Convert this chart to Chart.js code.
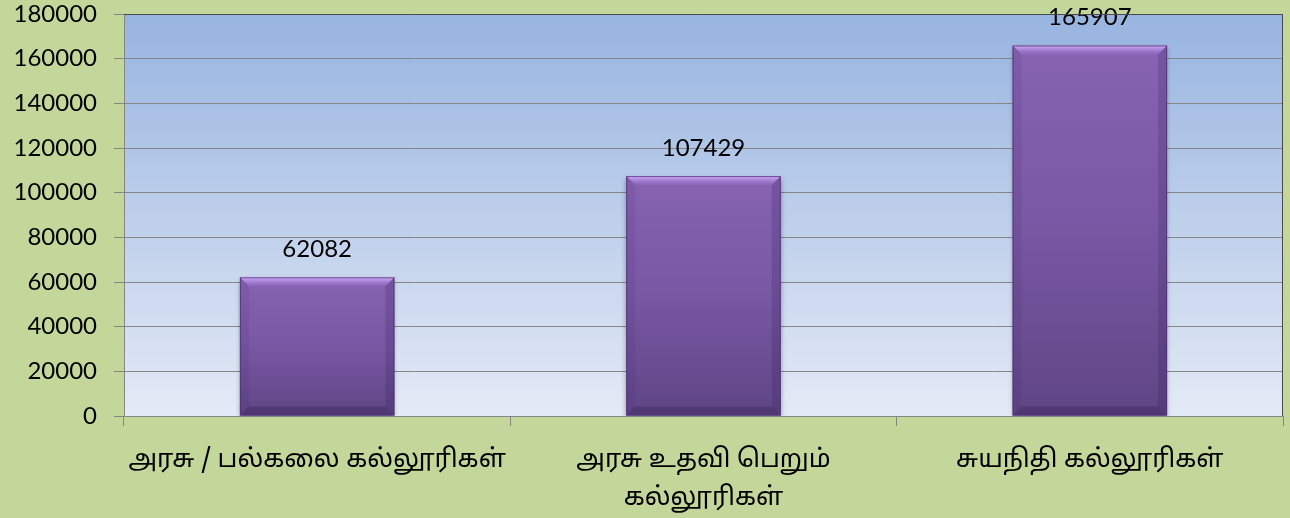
<!DOCTYPE html>
<html>
<head>
<meta charset="utf-8">
<script src="https://cdn.jsdelivr.net/npm/chart.js@4.4.0/dist/chart.umd.min.js"></script>
<style>
  html, body { margin: 0; padding: 0; background: #c4d79b; }
  #wrap { width: 1290px; height: 518px; }
</style>
</head>
<body>
<div id="wrap"><canvas id="collegeChart" width="1290" height="518"></canvas></div>
<script>
// data
const categories = [
    ['அரசு / பல்கலை கல்லூரிகள்'],
    ['அரசு உதவி பெறும்', 'கல்லூரிகள்'],
    ['சுயநிதி கல்லூரிகள்']
];
const studentCounts = [62082, 107429, 165907];
const yTicks = [0, 20000, 40000, 60000, 80000, 100000, 120000, 140000, 160000, 180000];

const numFont = { family: 'Lato, "Open Sans", sans-serif', size: 24 };
const tamilFont = { family: '"Noto Sans Tamil", Latha, "Noto Sans", sans-serif', size: 25.5, lineHeight: 1.49 };

// plot area: blue gradient + dark top/right border
const plotBackground = {
    id: 'plotBackground',
    beforeDraw(chart) {
        const { ctx, chartArea: a } = chart;
        const g = ctx.createLinearGradient(0, a.top, 0, a.bottom);
        g.addColorStop(0, '#97b4e0');
        g.addColorStop(1, '#e4eaf6');
        ctx.save();
        ctx.fillStyle = g;
        ctx.fillRect(a.left, a.top, a.right - a.left, a.bottom - a.top);
        ctx.restore();
    },
    afterDraw(chart) {
        const { ctx, chartArea: a } = chart;
        ctx.save();
        ctx.strokeStyle = '#4a4a4a';
        ctx.lineWidth = 1;
        ctx.beginPath();
        ctx.moveTo(a.left, a.top + 0.5);
        ctx.lineTo(a.right - 0.5, a.top + 0.5);
        ctx.lineTo(a.right - 0.5, a.bottom);
        ctx.stroke();
        ctx.restore();
    }
};

// shadow under the bars
const barShadow = {
    id: 'barShadow',
    beforeDatasetsDraw(chart) {
        const ctx = chart.ctx;
        ctx.save();
        ctx.shadowColor = 'rgba(0,0,0,0.35)';
        ctx.shadowBlur = 5;
        ctx.shadowOffsetY = 3;
    },
    afterDatasetsDraw(chart) {
        chart.ctx.restore();
    }
};

// bevel edges + value labels
const bevelAndLabels = {
    id: 'bevelAndLabels',
    afterDatasetsDraw(chart) {
        const ctx = chart.ctx;
        const meta = chart.getDatasetMeta(0);
        meta.data.forEach((bar, i) => {
            const { x, y, base, width } = bar.getProps(['x', 'y', 'base', 'width'], true);
            const l = x - width / 2, r = x + width / 2, t = y, b = base;
            const s = 9;
            ctx.save();
            // top
            let g = ctx.createLinearGradient(0, t, 0, t + s);
            g.addColorStop(0, 'rgba(218,180,255,0.95)');
            g.addColorStop(1, 'rgba(150,110,205,0.3)');
            ctx.fillStyle = g;
            ctx.beginPath();
            ctx.moveTo(l, t); ctx.lineTo(r, t); ctx.lineTo(r - s, t + s); ctx.lineTo(l + s, t + s);
            ctx.closePath(); ctx.fill();
            // left
            ctx.fillStyle = 'rgba(60,30,100,0.10)';
            ctx.beginPath();
            ctx.moveTo(l, t); ctx.lineTo(l + s, t + s); ctx.lineTo(l + s, b - s); ctx.lineTo(l, b);
            ctx.closePath(); ctx.fill();
            // right
            ctx.fillStyle = 'rgba(40,20,80,0.18)';
            ctx.beginPath();
            ctx.moveTo(r, t); ctx.lineTo(r - s, t + s); ctx.lineTo(r - s, b - s); ctx.lineTo(r, b);
            ctx.closePath(); ctx.fill();
            // bottom
            ctx.fillStyle = 'rgba(40,20,70,0.28)';
            ctx.beginPath();
            ctx.moveTo(l, b); ctx.lineTo(l + s, b - s); ctx.lineTo(r - s, b - s); ctx.lineTo(r, b);
            ctx.closePath(); ctx.fill();
            // outline
            ctx.strokeStyle = 'rgba(80,50,120,0.8)';
            ctx.lineWidth = 1;
            ctx.strokeRect(l + 0.5, t + 0.5, width - 1, b - t - 1);
            // value
            ctx.fillStyle = '#000';
            ctx.font = numFont.size + 'px ' + numFont.family;
            ctx.textAlign = 'center';
            ctx.textBaseline = 'bottom';
            ctx.fillText(String(studentCounts[i]), x, t - 16);
            ctx.restore();
        });
    }
};

const ctx = document.getElementById('collegeChart').getContext('2d');

const collegeChart = new Chart(ctx, {
    type: 'bar',
    data: {
        labels: categories,
        datasets: [{
            data: studentCounts,
            backgroundColor: (c) => {
                const chart = c.chart;
                if (!chart.chartArea || c.parsed === undefined) return '#7d5aa8';
                const yScale = chart.scales.y;
                const top = yScale.getPixelForValue(c.parsed.y);
                const bottom = yScale.getPixelForValue(0);
                const g = chart.ctx.createLinearGradient(0, top, 0, bottom);
                g.addColorStop(0, '#8763b2');
                g.addColorStop(0.5, '#7857a3');
                g.addColorStop(1, '#5f4585');
                return g;
            },
            borderWidth: 0,
            categoryPercentage: 1,
            barPercentage: 0.4
        }]
    },
    options: {
        responsive: false,
        animation: false,
        events: [],
        layout: {
            padding: { top: 14, right: 7, left: 0, bottom: 0 }
        },
        plugins: {
            legend: { display: false },
            tooltip: { enabled: false }
        },
        scales: {
            x: {
                grid: {
                    offset: true,
                    drawOnChartArea: false,
                    drawTicks: true,
                    tickLength: 10,
                    color: '#868686'
                },
                border: { display: true, color: '#868686' },
                ticks: {
                    color: '#000',
                    font: tamilFont,
                    padding: 17,
                    maxRotation: 0,
                    autoSkip: false
                },
                afterFit: (scale) => {
                    scale.height = 102;
                    scale.paddingLeft = 0;
                    scale.paddingRight = 0;
                }
            },
            y: {
                min: 0,
                max: 180000,
                afterBuildTicks: (scale) => {
                    scale.ticks = yTicks.map(v => ({ value: v }));
                },
                grid: {
                    color: '#868686',
                    tickLength: 10
                },
                border: { display: true, color: '#868686' },
                ticks: {
                    color: '#000',
                    font: numFont,
                    padding: 17,
                    callback: (v) => String(v)
                },
                afterFit: (scale) => {
                    scale.width = 124;
                    scale.paddingTop = 0;
                    scale.paddingBottom = 0;
                }
            }
        }
    },
    plugins: [plotBackground, barShadow, bevelAndLabels]
});
</script>
</body>
</html>
